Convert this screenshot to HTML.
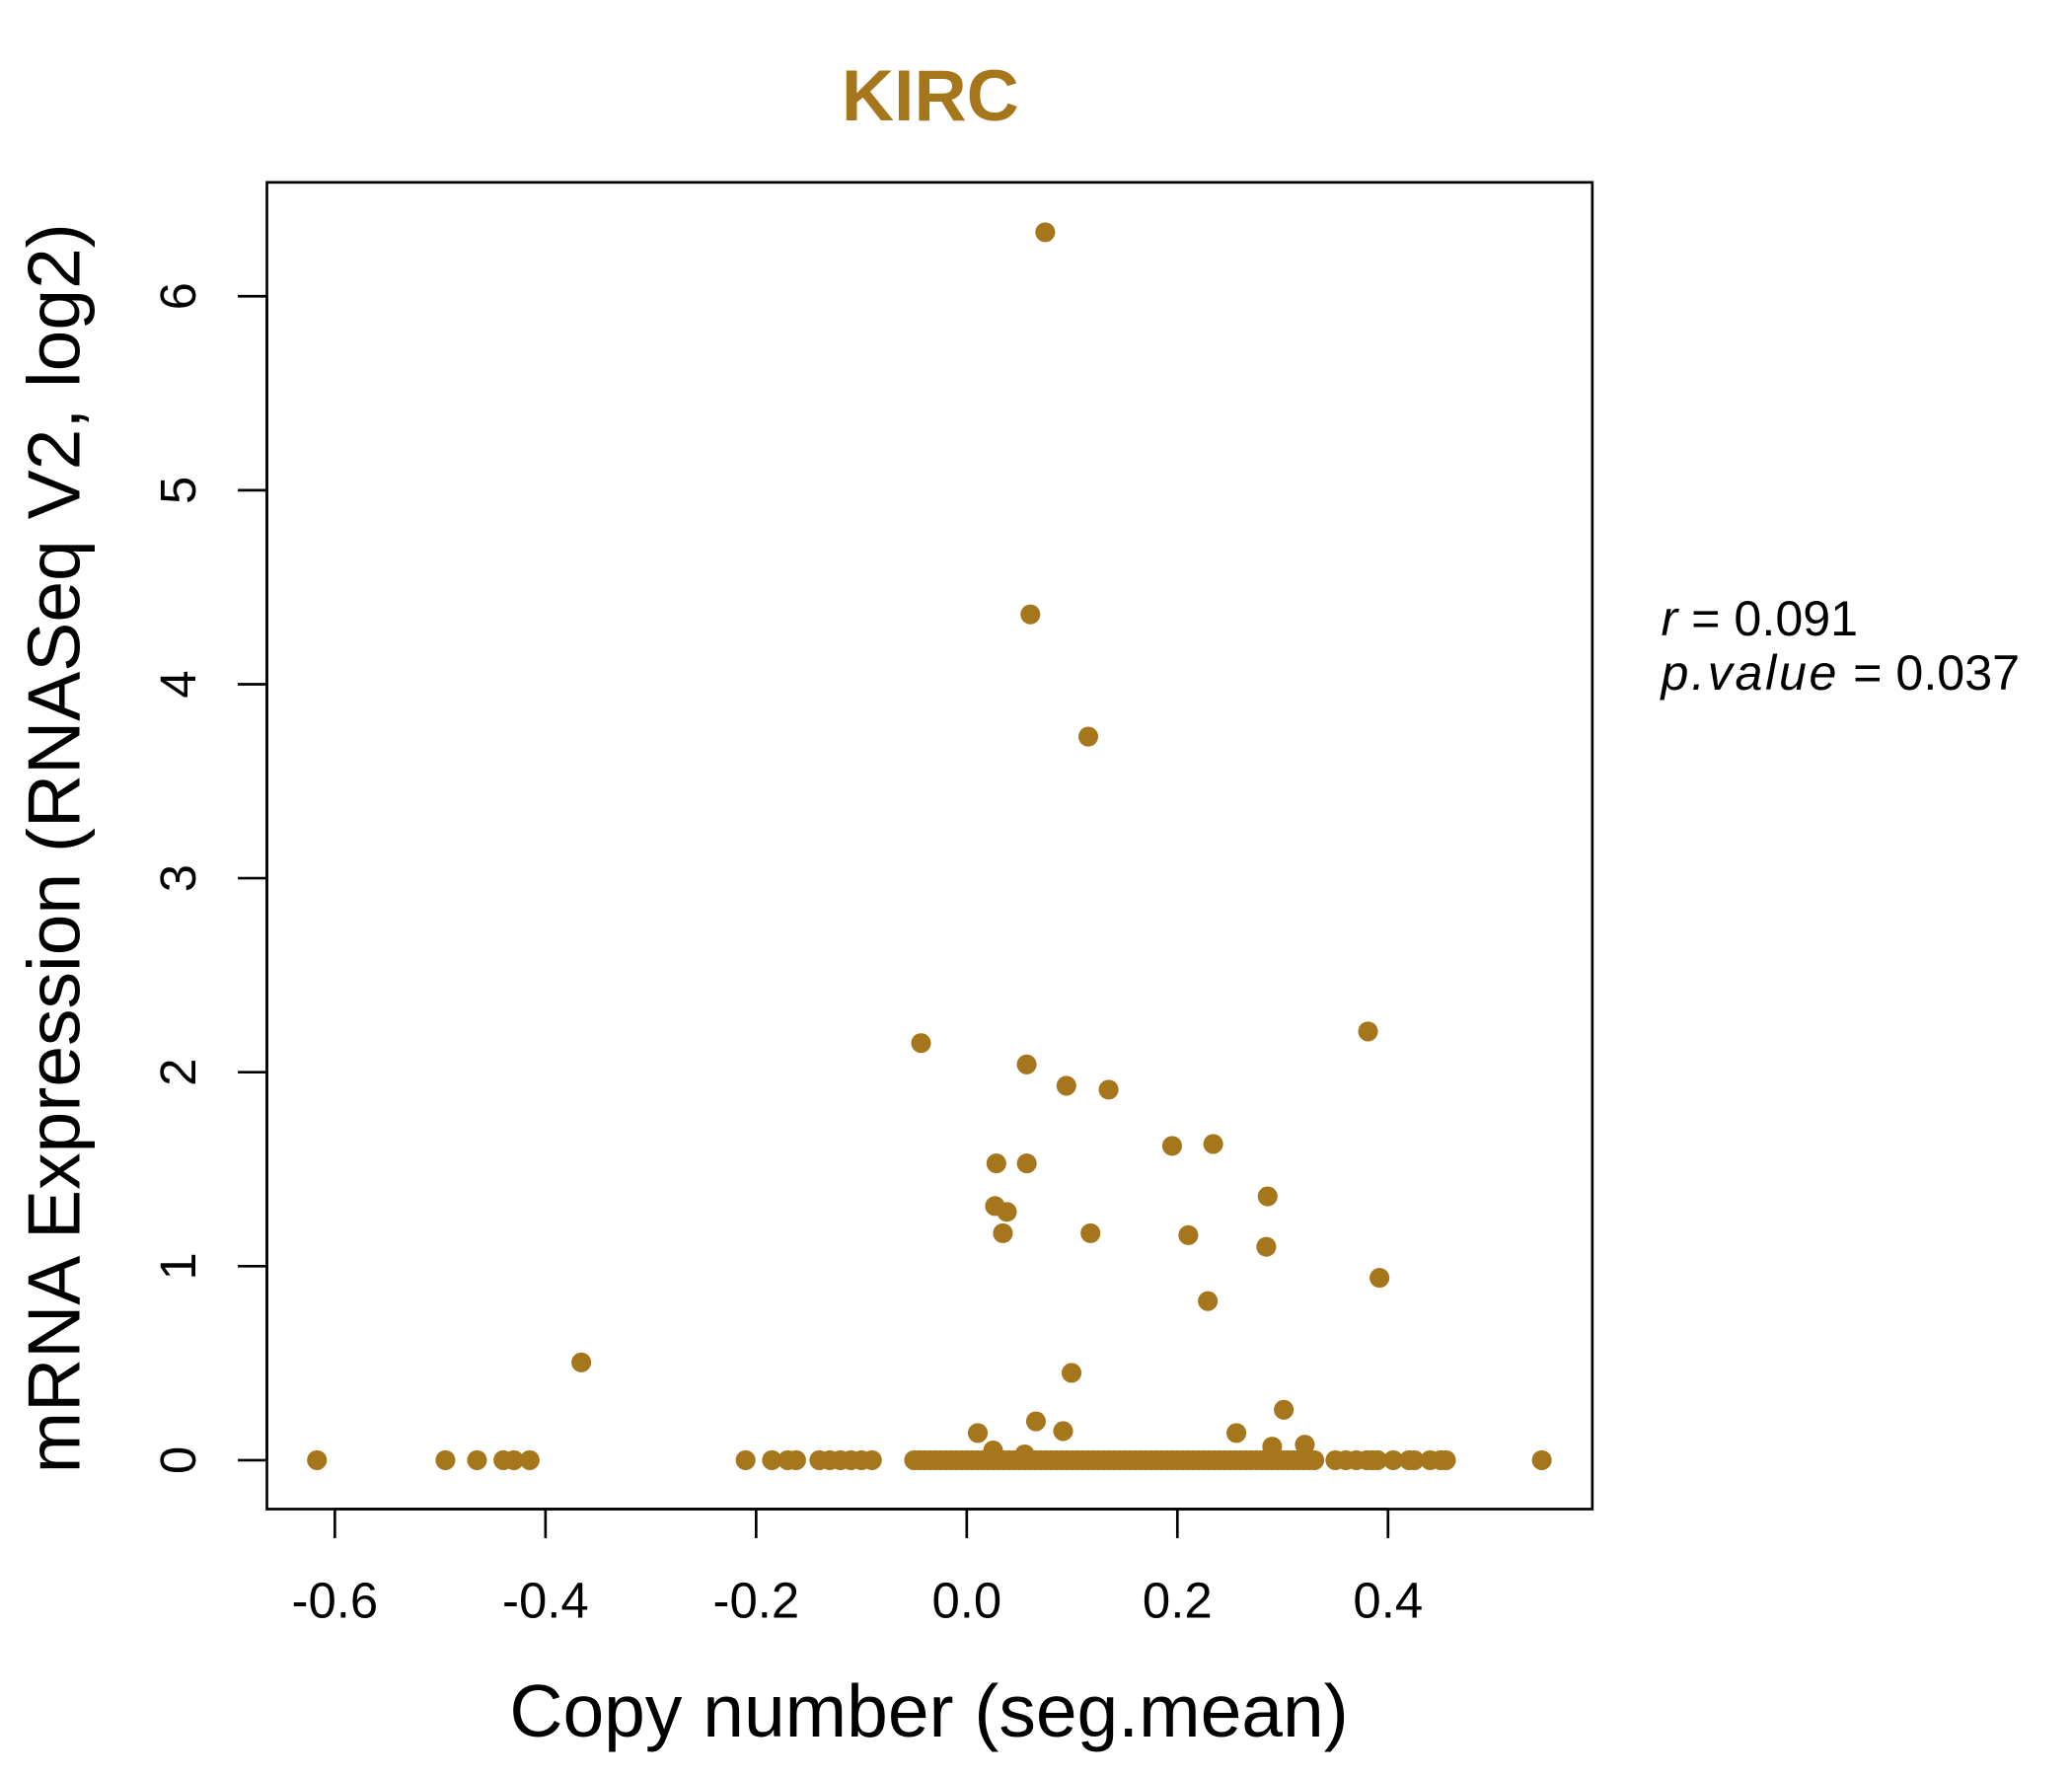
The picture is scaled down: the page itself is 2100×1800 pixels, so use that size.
<!DOCTYPE html>
<html><head><meta charset="utf-8"><style>
html,body{margin:0;padding:0;background:#fff;}
svg{display:block;font-family:"Liberation Sans",Arial,sans-serif;}
</style></head><body>
<svg id="chart" width="2100" height="1800" viewBox="0 0 1568 1344" preserveAspectRatio="none" xmlns="http://www.w3.org/2000/svg">
<rect x="0" y="0" width="1568" height="1344" fill="#fff"/>
<text x="704" y="91" text-anchor="middle" font-size="55" font-weight="bold" fill="#A6761D">KIRC</text>
<rect x="202" y="138" width="1003" height="1004" fill="none" stroke="#000" stroke-width="2"/>
<g id="xaxis"></g>
<g id="yaxis"></g>
<g id="points"></g>
<text x="703" y="1314" text-anchor="middle" font-size="56">Copy number (seg.mean)</text>
<text transform="translate(60,642) rotate(-90)" text-anchor="middle" font-size="56">mRNA Expression (RNASeq V2, log2)</text>
<text x="1257" y="481" font-size="37.5"><tspan font-style="italic">r</tspan> = 0.091</text>
<text x="1257" y="522" font-size="37.5"><tspan font-style="italic" letter-spacing="2">p.value</tspan> = 0.037</text>
</svg>
<script>
const xTicks=[-0.6,-0.4,-0.2,0.0,0.2,0.4];
const xTickLabels=["-0.6","-0.4","-0.2","0.0","0.2","0.4"];
const yTicks=[0,1,2,3,4,5,6];
const yTickLabels=["0","1","2","3","4","5","6"];
const xValues=[-0.366,0.0745,0.0604,0.1154,-0.0434,0.381,0.0569,0.0946,0.1347,0.195,0.234,0.0281,0.057,0.0268,0.0381,0.0343,0.1175,0.2104,0.2857,0.2844,0.3919,0.2289,0.0995,0.301,0.0657,0.0105,0.0915,0.256,0.290,0.321,0.025,0.055,
-0.617,-0.495,-0.465,-0.44,-0.43,-0.415,-0.21,-0.185,-0.17,-0.162,-0.14,-0.13,-0.12,-0.11,-0.1,-0.09,
-0.05,-0.045,-0.04,-0.035,-0.03,-0.025,-0.02,-0.015,-0.01,-0.005,0.0,0.005,0.01,0.015,0.02,0.025,0.03,0.035,0.04,0.045,0.05,0.055,0.06,0.065,0.07,0.075,0.08,0.085,0.09,0.095,0.1,0.105,0.11,0.115,0.12,0.125,0.13,0.135,0.14,0.145,0.15,0.155,0.16,0.165,0.17,0.175,0.18,0.185,0.19,0.195,0.2,0.205,0.21,0.215,0.22,0.225,0.23,0.235,0.24,0.245,0.25,0.255,0.26,0.265,0.27,0.275,0.28,0.285,0.29,0.295,0.3,0.305,0.31,0.315,0.32,0.325,0.33,
0.35,0.36,0.37,0.38,0.385,0.39,0.405,0.42,0.425,0.44,0.45,0.455,0.546];
const yValues=[0.504,6.33,4.36,3.73,2.15,2.21,2.04,1.93,1.91,1.62,1.63,1.53,1.53,1.31,1.28,1.17,1.17,1.16,1.36,1.10,0.94,0.82,0.45,0.26,0.20,0.14,0.15,0.14,0.07,0.08,0.05,0.03,
0,0,0,0,0,0,0,0,0,0,0,0,0,0,0,0,
0,0,0,0,0,0,0,0,0,0,0,0,0,0,0,0,0,0,0,0,0,0,0,0,0,0,0,0,0,0,0,0,0,0,0,0,0,0,0,0,0,0,0,0,0,0,0,0,0,0,0,0,0,0,0,0,0,0,0,0,0,0,0,0,0,0,0,0,0,0,0,0,0,0,0,0,0,
0,0,0,0,0,0,0,0,0,0,0,0,0];
const NS="http://www.w3.org/2000/svg";
const sx=v=>731.6+v*797;
const sy=v=>1105-v*146.8;
const xa=document.getElementById('xaxis');
const xl=document.createElementNS(NS,'line');


xl.setAttribute('x1',sx(xTicks[0]));xl.setAttribute('x2',sx(xTicks[xTicks.length-1]));
xl.setAttribute('y1',1142);xl.setAttribute('y2',1142);xl.setAttribute('stroke','#000');xl.setAttribute('stroke-width','2');
xa.appendChild(xl);
xTicks.forEach((t,i)=>{
 const l=document.createElementNS(NS,'line');
 
 
 l.setAttribute('x1',sx(t));l.setAttribute('x2',sx(t));l.setAttribute('y1',1142);l.setAttribute('y2',1164);
 l.setAttribute('stroke','#000');l.setAttribute('stroke-width','2');xa.appendChild(l);
 const tx=document.createElementNS(NS,'text');
 
 
 tx.setAttribute('x',sx(t));tx.setAttribute('y',1224);tx.setAttribute('text-anchor','middle');tx.setAttribute('font-size','38');
 tx.textContent=xTickLabels[i];xa.appendChild(tx);
});
const ya=document.getElementById('yaxis');
const yl=document.createElementNS(NS,'line');


yl.setAttribute('x1',202);yl.setAttribute('x2',202);
yl.setAttribute('y1',sy(yTicks[0]));yl.setAttribute('y2',sy(yTicks[yTicks.length-1]));yl.setAttribute('stroke','#000');yl.setAttribute('stroke-width','2');
ya.appendChild(yl);
yTicks.forEach((t,i)=>{
 const l=document.createElementNS(NS,'line');
 
 
 l.setAttribute('x1',180);l.setAttribute('x2',202);l.setAttribute('y1',sy(t));l.setAttribute('y2',sy(t));
 l.setAttribute('stroke','#000');l.setAttribute('stroke-width','2');ya.appendChild(l);
 const tx=document.createElementNS(NS,'text');
 
 
 tx.setAttribute('transform','translate(148,'+sy(t)+') rotate(-90)');tx.setAttribute('text-anchor','middle');tx.setAttribute('font-size','38');
 tx.textContent=yTickLabels[i];ya.appendChild(tx);
});
const pg=document.getElementById('points');
xValues.forEach((x,i)=>{
 const c=document.createElementNS(NS,'circle');
 
 
 c.setAttribute('cx',sx(x));c.setAttribute('cy',sy(yValues[i]));c.setAttribute('r',7.5);c.setAttribute('fill','#A6761D');
 pg.appendChild(c);
});
</script>
</body></html>
